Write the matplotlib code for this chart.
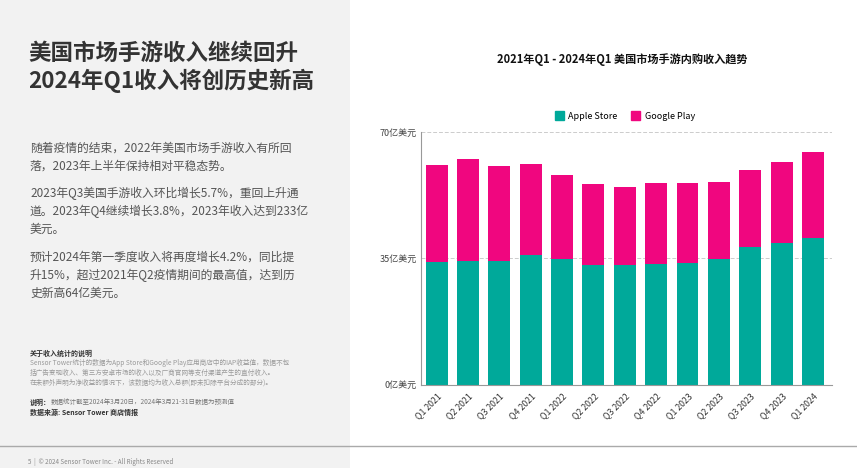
import matplotlib
matplotlib.use("Agg")
import matplotlib.pyplot as plt
from matplotlib.patches import Rectangle
from matplotlib.lines import Line2D

plt.rcParams['font.family'] = ['Noto Sans CJK SC', 'DejaVu Sans']

quarters = ["Q1 2021", "Q2 2021", "Q3 2021", "Q4 2021", "Q1 2022", "Q2 2022", "Q3 2022",
            "Q4 2022", "Q1 2023", "Q2 2023", "Q3 2023", "Q4 2023", "Q1 2024"]
apple = [33.9, 34.3, 34.3, 35.9, 34.8, 33.1, 33.0, 33.5, 33.6, 34.8, 38.0, 39.3, 40.5]
google = [27.0, 28.2, 26.4, 25.3, 23.4, 22.6, 21.8, 22.3, 22.2, 21.4, 21.5, 22.5, 23.9]
yticks = [0, 35, 70]
ytick_labels = ["0亿美元", "35亿美元", "70亿美元"]
series_names = ["Apple Store", "Google Play"]
colors = ["#00A99A", "#F0067F"]

W, H = 857, 468
fig = plt.figure(figsize=(W / 100, H / 100), dpi=100)
fig.patch.set_facecolor("white")

# left gray panel
fig.patches.append(Rectangle((0, 0), 350 / W, 1, transform=fig.transFigure,
                             facecolor="#f2f2f2", edgecolor="none", zorder=0))
# bottom separator line
fig.lines.append(Line2D([0, 1], [1 - 446 / H, 1 - 446 / H], transform=fig.transFigure,
                        color="#aaaaaa", lw=1.0))

def fy(y):
    return 1 - y / H

def fx(x):
    return x / W

# Left title
fig.text(fx(28), fy(53), "美国市场手游收入继续回升", fontsize=16.2, fontweight="bold",
         color="#333333", va="center", ha="left")
fig.text(fx(28), fy(81), "2024年Q1收入将创历史新高", fontsize=16.2, fontweight="bold",
         color="#333333", va="center", ha="left")

body = [
    (148, "随着疫情的结束，2022年美国市场手游收入有所回"),
    (166, "落，2023年上半年保持相对平稳态势。"),
    (193, "2023年Q3美国手游收入环比增长5.7%，重回上升通"),
    (211, "道。2023年Q4继续增长3.8%，2023年收入达到233亿"),
    (229, "美元。"),
    (257, "预计2024年第一季度收入将再度增长4.2%，同比提"),
    (275, "升15%，超过2021年Q2疫情期间的最高值，达到历"),
    (293, "史新高64亿美元。"),
]
for y, t in body:
    fig.text(fx(30), fy(y), t, fontsize=8.5, color="#555555", va="center", ha="left")

fig.text(fx(30), fy(353), "关于收入统计的说明", fontsize=5, fontweight="bold",
         color="#333333", va="center", ha="left")
notes = [
    (363, "Sensor Tower统计的数据为App Store和Google Play应用商店中的IAP收益值，数据不包"),
    (373, "括广告变现收入、第三方安卓市场的收入以及厂商官网等支付渠道产生的直付收入。"),
    (383, "在未额外声明为净收益的情况下，该数据均为收入总额(即未扣除平台分成的部分)。"),
]
for y, t in notes:
    fig.text(fx(30), fy(y), t, fontsize=4.8, color="#9a9a9a", va="center", ha="left")
fig.text(fx(30), fy(402), "说明：", fontsize=5, fontweight="bold", color="#333333",
         va="center", ha="left")
fig.text(fx(51), fy(402), "数据统计截至2024年3月20日，2024年3月21-31日数据为预测值",
         fontsize=4.7, color="#777777", va="center", ha="left")
fig.text(fx(30), fy(412), "数据来源: Sensor Tower 商店情报", fontsize=5, fontweight="bold",
         color="#333333", va="center", ha="left")
fig.text(fx(28), fy(462), "5  |  © 2024 Sensor Tower Inc. - All Rights Reserved",
         fontsize=4.5, color="#888888", va="center", ha="left")

# Chart title
fig.text(fx(622), fy(60), "2021年Q1 - 2024年Q1 美国市场手游内购收入趋势", fontsize=8,
         fontweight="bold", color="#111111", va="center", ha="center")

# Axes
left, right, bottom, top = 420.7, 832, 384.5, 132
ax = fig.add_axes([fx(left), fy(bottom), (right - left) / W, (bottom - top) / H])
ax.set_facecolor("none")
x = list(range(len(quarters)))
ax.bar(x, apple, width=0.70, color=colors[0], label=series_names[0], zorder=2)
ax.bar(x, google, width=0.70, bottom=apple, color=colors[1], label=series_names[1], zorder=2)
ax.set_xlim(-0.51, 12.61)
ax.set_ylim(0, 70)
ax.set_yticks(yticks)
ax.set_yticklabels(ytick_labels, fontsize=6.5, color="#444444")
ax.set_xticks(x)
ax.set_xticklabels(quarters, rotation=45, ha="right", rotation_mode="anchor",
                   fontsize=6.3, color="#333333")
ax.tick_params(axis="both", length=0, pad=3)
ax.tick_params(axis="x", pad=5)
for yv in [35, 70]:
    ax.axhline(yv, color="#cccccc", lw=0.7, ls=(0, (4, 2)), zorder=1)
for s in ["top", "right"]:
    ax.spines[s].set_visible(False)
ax.spines["left"].set_color("#999999")
ax.spines["bottom"].set_color("#999999")
ax.spines["left"].set_linewidth(0.8)
ax.spines["bottom"].set_linewidth(0.8)

handles = [Rectangle((0, 0), 1, 1, color=c) for c in colors]
fig.legend(handles, series_names, loc="center", bbox_to_anchor=(fx(625), fy(116)),
           ncol=2, frameon=False, fontsize=6.5, handlelength=1.0, handleheight=1.0,
           columnspacing=1.5, handletextpad=0.5)

fig.savefig("out.png", dpi=100, facecolor=fig.get_facecolor())
